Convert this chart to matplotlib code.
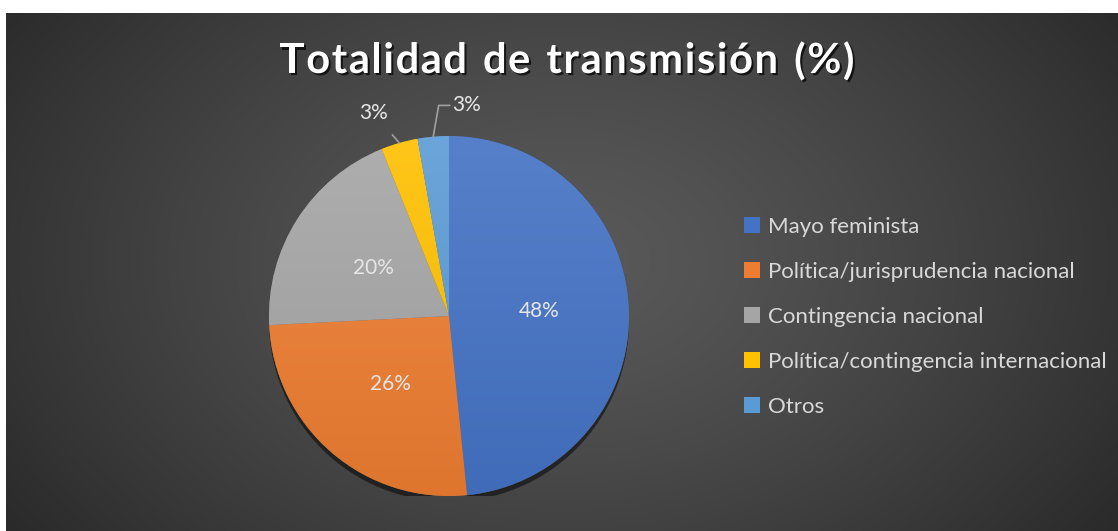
import numpy as np
import matplotlib
matplotlib.use("Agg")
import matplotlib.pyplot as plt
import matplotlib.patheffects as pe
from matplotlib.colors import to_rgb
from matplotlib.patches import Circle

# Datos del grafico (porcentajes)
categorias = ["Mayo feminista", "Política/jurisprudencia nacional", "Contingencia nacional",
              "Política/contingencia internacional", "Otros"]
valores = [48.4, 25.8, 19.7, 3.3, 2.8]
colores = ["#4472C4", "#ED7D31", "#A5A5A5", "#FFC000", "#5B9BD5"]
titulo = "Totalidad de transmisión (%)"

plt.rcParams["font.family"] = ["Lato", "DejaVu Sans"]

W, H = 1118, 531
fig = plt.figure(figsize=(W / 100, H / 100), dpi=100)
fig.patch.set_facecolor("white")

# Fondo con degradado radial (zona del grafico)
bg = fig.add_axes([6 / W, 0, (W - 6) / W, (H - 13) / H])
yy, xx = np.mgrid[0:200, 0:400]
cx, cy = 200, 95
d = np.sqrt(((xx - cx) / 260.0) ** 2 + ((yy - cy) / 190.0) ** 2)
d = np.clip(d, 0, 1)
luz = 0.35 - (0.35 - 0.15) * d ** 1.3
img = np.dstack([luz, luz, luz])
bg.imshow(img, aspect="auto", extent=[0, 1, 0, 1], interpolation="bilinear")
bg.set_axis_off()

# Titulo con espaciado entre letras
renderer = fig.canvas.get_renderer()
sombra = [pe.SimplePatchShadow(offset=(1.5, -1.5), shadow_rgbFace="black", alpha=0.7), pe.Normal()]
espacio = 1.6
anchos = []
for ch in titulo:
    t = fig.text(0, 0, ch if ch != " " else "n", fontsize=30, fontweight="bold")
    anchos.append(t.get_window_extent(renderer).width * (0.55 if ch == " " else 1))
    t.remove()
total = sum(anchos) + espacio * (len(titulo) - 1)
x = 567 - total / 2
for ch, w in zip(titulo, anchos):
    if ch != " ":
        fig.text(x / W, 1 - 61 / H, ch, ha="left", va="center", color="white",
                 fontsize=30, fontweight="bold", path_effects=sombra)
    x += w + espacio

# Pie
r = 180
cxp, cyp = 449, 316
ax = fig.add_axes([(cxp - r) / W, (H - cyp - r) / H, 2 * r / W, 2 * r / H])

wedges, textos = ax.pie(valores, colors=colores, startangle=90, counterclock=False,
                        radius=1, wedgeprops=dict(linewidth=0.3, edgecolor="#505050"))
ax.set_xlim(-1, 1)
ax.set_ylim(-1, 1)
ax.set_aspect("equal")
ax.set_axis_off()

# sombra debajo del pie
base = Circle((0, 0), 1, facecolor="#202020", edgecolor="none", zorder=0.5,
              path_effects=[pe.SimplePatchShadow(offset=(0, -4), shadow_rgbFace="black", alpha=0.5),
                            pe.Normal()])
ax.add_patch(base)

# degradado vertical en cada porcion
grad = np.linspace(0, 1, 256)[:, None]
for w, c in zip(wedges, colores):
    c = np.array(to_rgb(c))
    claro = c + (1 - c) * 0.1
    oscuro = c * 0.94
    g = claro[None, None, :] * (1 - grad[:, :, None]) + oscuro[None, None, :] * grad[:, :, None]
    im = ax.imshow(g, extent=[-1, 1, -1, 1], aspect="auto", zorder=w.get_zorder() + 0.1,
                   interpolation="bilinear")
    im.set_clip_path(w)

# Etiquetas de porcentaje
acum = 0
medios = []
for v in valores:
    medios.append(np.deg2rad(90 - (acum + v / 2) / sum(valores) * 360))
    acum += v
for v, a in zip(valores, medios):
    if v >= 10:
        ax.text(0.5 * np.cos(a), 0.5 * np.sin(a), f"{round(v)}%", ha="center", va="center",
                color="#e6e6e6", fontsize=15, zorder=5)

# Etiquetas externas con linea guia
a3 = medios[3]
ax.annotate(f"{round(valores[3])}%", xy=(np.cos(a3), np.sin(a3)), xytext=(-0.42, 1.13),
            ha="center", va="center", color="#e6e6e6", fontsize=15,
            arrowprops=dict(arrowstyle="-", color="#a0a0a0", lw=1.2, shrinkA=9, shrinkB=0))
a4 = medios[4]
ax.annotate(f"{round(valores[4])}%", xy=(np.cos(a4), np.sin(a4)), xytext=(0.1, 1.17),
            ha="center", va="center", color="#e6e6e6", fontsize=15,
            arrowprops=dict(arrowstyle="-", color="#a0a0a0", lw=1.2, shrinkA=0, shrinkB=0,
                            connectionstyle="angle,angleA=0,angleB=80,rad=0",
                            relpos=(0, 0.5)))

# Leyenda
leg = fig.legend(wedges, categorias, loc="upper left", bbox_to_anchor=(744 / W, 1 - 217 / H),
                 frameon=False, fontsize=16, labelcolor="#d9d9d9", handlelength=0.7,
                 handleheight=0.7, handletextpad=0.4, labelspacing=1.12, borderpad=0,
                 borderaxespad=0)
for h in leg.legend_handles:
    h.set_linewidth(0)

fig.savefig("out.png", dpi=100)
